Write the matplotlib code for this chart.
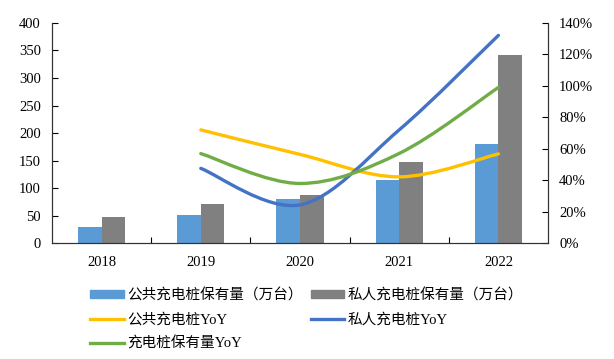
import matplotlib
matplotlib.use("Agg")
import matplotlib.pyplot as plt
import numpy as np
from matplotlib.path import Path
from matplotlib.patches import PathPatch, Patch
from matplotlib.lines import Line2D

plt.rcParams['font.family'] = ['Liberation Serif', 'Noto Sans CJK SC']

years = ['2018', '2019', '2020', '2021', '2022']
public_piles = [30.0, 51.6, 80.7, 114.7, 179.7]
private_piles = [47.0, 70.3, 87.4, 147.0, 341.2]

yoy_years = [1, 2, 3, 4]
public_yoy = [72.0, 56.4, 42.1, 56.7]
private_yoy = [47.5, 24.3, 72.0, 132.1]
total_yoy = [56.9, 37.9, 57.0, 99.0]

c_pub_bar = '#5B9BD5'
c_pri_bar = '#808080'
c_pub_line = '#FFC000'
c_pri_line = '#4472C4'
c_tot_line = '#70AD47'


def smooth_path(xs, ys):
    # excel-style smoothed line: cubic bezier through points
    pts = np.column_stack([xs, ys]).astype(float)
    verts = [pts[0]]
    codes = [Path.MOVETO]
    n = len(pts)
    for i in range(n - 1):
        p0 = pts[i - 1] if i > 0 else pts[i]
        p1 = pts[i]
        p2 = pts[i + 1]
        p3 = pts[i + 2] if i + 2 < n else pts[i + 1]
        c1 = p1 + (p2 - p0) / 6.0
        c2 = p2 - (p3 - p1) / 6.0
        verts += [c1, c2, p2]
        codes += [Path.CURVE4] * 3
    return Path(verts, codes)


fig = plt.figure(figsize=(6.14, 3.59), dpi=100)
ax = fig.add_axes([0.0847, 0.323, 0.8078, 0.613])
ax2 = ax.twinx()

x = np.arange(len(years))
w = 0.237
ax.bar(x - w / 2, public_piles, w, color=c_pub_bar, zorder=2)
ax.bar(x + w / 2, private_piles, w, color=c_pri_bar, zorder=2)

for ys, c in [(public_yoy, c_pub_line), (private_yoy, c_pri_line), (total_yoy, c_tot_line)]:
    ax2.add_patch(PathPatch(smooth_path(yoy_years, ys), facecolor='none',
                            edgecolor=c, lw=2.4, capstyle='round'))

ax.set_xlim(-0.5, 4.5)
ax.set_ylim(0, 400)
ax.set_yticks(range(0, 401, 50))
ax2.set_ylim(0, 140)
ax2.set_yticks(range(0, 141, 20))
ax2.set_yticklabels([f'{v}%' for v in range(0, 141, 20)])

ax.set_xticks(x)
ax.set_xticklabels(years)
ax.set_xticks(np.arange(0.5, 4, 1), minor=True)
ax.tick_params(axis='x', which='major', length=0, pad=9, labelsize=10.5)
ax.tick_params(axis='x', which='minor', direction='in', length=4, width=0.8)
ax.tick_params(axis='y', direction='in', length=4, width=0.8, labelsize=10.5, pad=8)
ax2.tick_params(axis='y', direction='in', length=4, width=0.8, labelsize=10.5, pad=8)

for a in (ax, ax2):
    a.spines['top'].set_visible(False)
    for s in ('left', 'right', 'bottom'):
        a.spines[s].set_color('#333333')
        a.spines[s].set_linewidth(0.8)

handles = [
    Patch(color=c_pub_bar), Line2D([], [], color=c_pub_line, lw=2.4),
    Line2D([], [], color=c_tot_line, lw=2.4),
    Patch(color=c_pri_bar), Line2D([], [], color=c_pri_line, lw=2.4),
]
labels = ['公共充电桩保有量（万台）', '公共充电桩YoY', '充电桩保有量YoY',
          '私人充电桩保有量（万台）', '私人充电桩YoY']
fig.legend(handles, labels, ncol=2, loc='upper left', bbox_to_anchor=(0.135, 0.217),
           frameon=False, fontsize=10.5, handlelength=2.3, handleheight=0.45,
           handletextpad=0.25, columnspacing=0.55, labelspacing=0.7, borderpad=0)

fig.savefig('out.png', dpi=100)
